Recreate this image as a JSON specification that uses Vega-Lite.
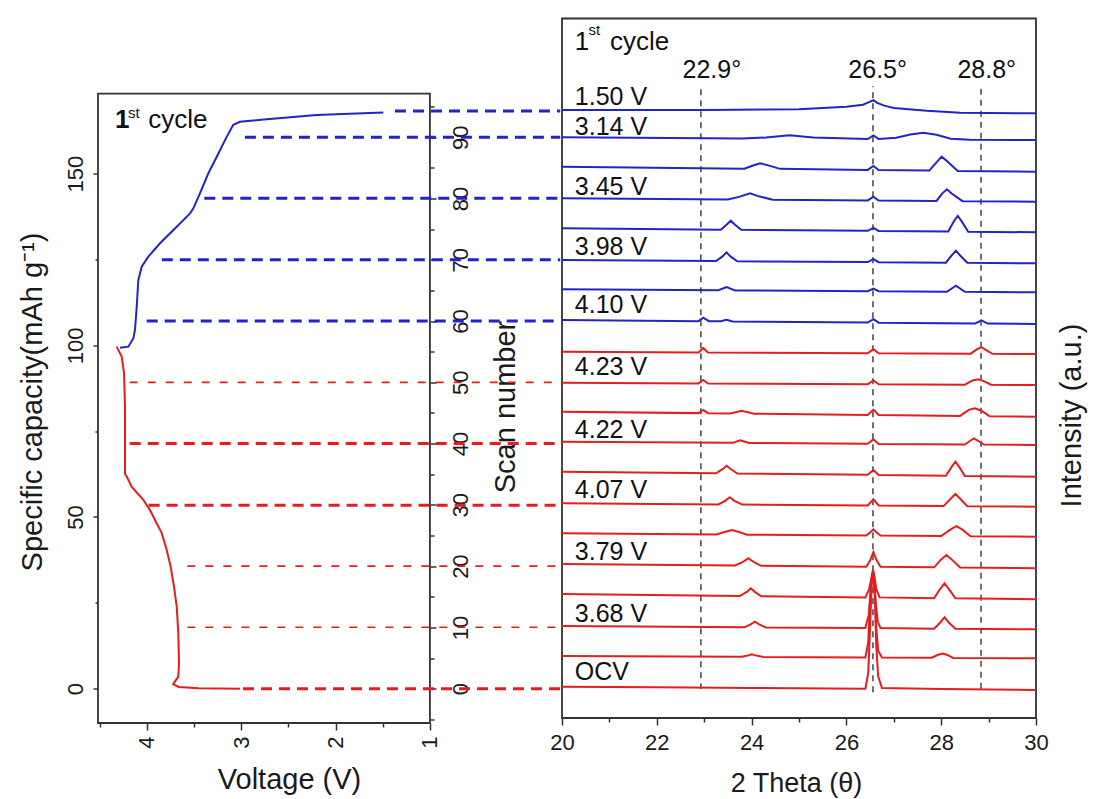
{
 "$schema": "https://vega.github.io/schema/vega-lite/v6.json",
 "width": 938,
 "height": 704.5,
 "autosize": {"type": "none"},
 "padding": {"left": 98, "top": 18.5, "right": 61, "bottom": 76},
 "config": {
  "font": "Liberation Sans",
  "view": {"stroke": null},
  "axis": {"grid": false, "domain": false, "labelFlush": false, "labelOverlap": false, "tickColor": "#333", "tickWidth": 1.5, "labelColor": "#1a1a1a", "titleColor": "#1a1a1a", "labelFontSize": 22, "titleFontSize": 29, "titleFontWeight": "normal", "labelFont": "Liberation Sans", "titleFont": "Liberation Sans"}
 },
 "datasets": {
  "charge": [
   {"n":0,"v":4.283,"cap":99.3},{"n":1,"v":4.195,"cap":99.6},{"n":2,"v":4.142,"cap":102.0},{"n":3,"v":4.124,"cap":104.5},{"n":4,"v":4.106,"cap":111.2},{"n":5,"v":4.089,"cap":119.0},{"n":6,"v":4.053,"cap":122.9},{"n":7,"v":3.983,"cap":125.8},{"n":8,"v":3.859,"cap":129.7},{"n":9,"v":3.682,"cap":134.5},{"n":10,"v":3.541,"cap":138.4},{"n":11,"v":3.506,"cap":139.9},{"n":12,"v":3.435,"cap":144.3},{"n":13,"v":3.347,"cap":150.1},{"n":14,"v":3.258,"cap":154.9},{"n":15,"v":3.153,"cap":160.7},{"n":16,"v":3.083,"cap":164.2},{"n":17,"v":3.012,"cap":165.1},{"n":18,"v":2.729,"cap":165.8},{"n":19,"v":2.2,"cap":167.1},{"n":20,"v":1.494,"cap":167.8}
  ],
  "disch": [
   {"n":0,"v":3.01,"cap":0.0},{"n":1,"v":3.45,"cap":0.1},{"n":2,"v":3.66,"cap":0.5},{"n":3,"v":3.72,"cap":1.3},{"n":4,"v":3.665,"cap":3.5},{"n":5,"v":3.658,"cap":7.4},{"n":6,"v":3.665,"cap":16.1},{"n":7,"v":3.682,"cap":23.9},{"n":8,"v":3.711,"cap":29.7},{"n":9,"v":3.746,"cap":35.5},{"n":10,"v":3.788,"cap":40.4},{"n":11,"v":3.841,"cap":45.3},{"n":12,"v":3.912,"cap":49.1},{"n":13,"v":3.965,"cap":52.0},{"n":14,"v":4.036,"cap":55.0},{"n":15,"v":4.16,"cap":58.8},{"n":16,"v":4.21,"cap":61.7},{"n":17,"v":4.23,"cap":62.5},{"n":18,"v":4.23,"cap":82.1},{"n":19,"v":4.24,"cap":91.8},{"n":20,"v":4.265,"cap":96.7},{"n":21,"v":4.318,"cap":99.6}
  ],
  "dash": [
   {"v":2.98,"v2":-0.38,"cap":0,"g":"rt"},
   {"v":3.57,"v2":-0.38,"cap":17.9,"g":"rn"},
   {"v":3.57,"v2":-0.38,"cap":35.7,"g":"rn"},
   {"v":3.98,"v2":-0.38,"cap":53.4,"g":"rt"},
   {"v":4.18,"v2":-0.38,"cap":71.4,"g":"rt"},
   {"v":4.18,"v2":-0.38,"cap":89.2,"g":"rn"},
   {"v":4.0,"v2":-0.38,"cap":107.1,"g":"b"},
   {"v":3.84,"v2":-0.38,"cap":124.9,"g":"b"},
   {"v":3.39,"v2":-0.38,"cap":142.8,"g":"b"},
   {"v":2.96,"v2":-0.38,"cap":160.6,"g":"b"},
   {"v":1.37,"v2":-0.38,"cap":168.2,"g":"b"}
  ],
  "xrd": [
   {"k":0,"t":20,"s":0.33},{"k":0,"t":22,"s":0.22},{"k":0,"t":24,"s":0.12},{"k":0,"t":26.4,"s":0.0},{"k":0,"t":26.46,"s":2.5},{"k":0,"t":26.5,"s":10},{"k":0,"t":26.54,"s":18.5},{"k":0,"t":26.57,"s":19.1},{"k":0,"t":26.6,"s":15},{"k":0,"t":26.63,"s":7},{"k":0,"t":26.67,"s":2},{"k":0,"t":26.75,"s":0.1},{"k":0,"t":28,"s":-0.05},{"k":0,"t":30,"s":-0.2},
   {"k":1,"t":20,"s":5.34},{"k":1,"t":23.8,"s":5.2},{"k":1,"t":23.92,"s":5.4},{"k":1,"t":24.0,"s":5.6},{"k":1,"t":24.1,"s":5.4},{"k":1,"t":24.25,"s":5.18},{"k":1,"t":26.4,"s":5.1},{"k":1,"t":26.46,"s":7.5},{"k":1,"t":26.5,"s":14},{"k":1,"t":26.54,"s":18.6},{"k":1,"t":26.57,"s":19.0},{"k":1,"t":26.6,"s":16},{"k":1,"t":26.63,"s":10},{"k":1,"t":26.67,"s":6.2},{"k":1,"t":26.75,"s":5.1},{"k":1,"t":27.8,"s":5.05},{"k":1,"t":27.92,"s":5.5},{"k":1,"t":28.03,"s":5.75},{"k":1,"t":28.13,"s":5.5},{"k":1,"t":28.25,"s":5.02},{"k":1,"t":30,"s":4.96},
   {"k":2,"t":20,"s":10.23},{"k":2,"t":23.85,"s":10.02},{"k":2,"t":23.98,"s":10.5},{"k":2,"t":24.07,"s":10.93},{"k":2,"t":24.16,"s":10.5},{"k":2,"t":24.3,"s":10.0},{"k":2,"t":26.4,"s":9.9},{"k":2,"t":26.47,"s":12},{"k":2,"t":26.51,"s":16},{"k":2,"t":26.55,"s":18.9},{"k":2,"t":26.58,"s":18.5},{"k":2,"t":26.62,"s":14},{"k":2,"t":26.66,"s":11},{"k":2,"t":26.72,"s":9.9},{"k":2,"t":27.85,"s":9.8},{"k":2,"t":27.98,"s":10.8},{"k":2,"t":28.07,"s":11.65},{"k":2,"t":28.16,"s":10.8},{"k":2,"t":28.3,"s":9.78},{"k":2,"t":30,"s":9.69},
   {"k":3,"t":20,"s":15.45},{"k":3,"t":23.75,"s":15.12},{"k":3,"t":23.9,"s":15.8},{"k":3,"t":23.98,"s":16.38},{"k":3,"t":24.07,"s":15.8},{"k":3,"t":24.2,"s":15.08},{"k":3,"t":26.4,"s":14.9},{"k":3,"t":26.48,"s":16.2},{"k":3,"t":26.53,"s":18.2},{"k":3,"t":26.56,"s":19.1},{"k":3,"t":26.59,"s":18.4},{"k":3,"t":26.63,"s":16.3},{"k":3,"t":26.7,"s":14.9},{"k":3,"t":27.85,"s":14.77},{"k":3,"t":27.98,"s":16.3},{"k":3,"t":28.07,"s":17.2},{"k":3,"t":28.16,"s":16.3},{"k":3,"t":28.3,"s":14.75},{"k":3,"t":30,"s":14.59},
   {"k":4,"t":20,"s":20.35},{"k":4,"t":23.65,"s":20.1},{"k":4,"t":23.82,"s":20.7},{"k":4,"t":23.93,"s":21.28},{"k":4,"t":24.04,"s":20.7},{"k":4,"t":24.2,"s":20.05},{"k":4,"t":26.42,"s":19.9},{"k":4,"t":26.5,"s":20.9},{"k":4,"t":26.57,"s":22.3},{"k":4,"t":26.64,"s":20.9},{"k":4,"t":26.72,"s":19.9},{"k":4,"t":27.85,"s":19.8},{"k":4,"t":28.0,"s":21.1},{"k":4,"t":28.11,"s":21.82},{"k":4,"t":28.22,"s":21.1},{"k":4,"t":28.4,"s":19.77},{"k":4,"t":30,"s":19.65},
   {"k":5,"t":20,"s":25.36},{"k":5,"t":23.25,"s":25.18},{"k":5,"t":23.45,"s":25.6},{"k":5,"t":23.58,"s":25.9},{"k":5,"t":23.72,"s":25.6},{"k":5,"t":23.9,"s":25.14},{"k":5,"t":26.42,"s":25.0},{"k":5,"t":26.5,"s":25.5},{"k":5,"t":26.57,"s":26.0},{"k":5,"t":26.64,"s":25.5},{"k":5,"t":26.72,"s":25.0},{"k":5,"t":28.0,"s":24.92},{"k":5,"t":28.2,"s":26.0},{"k":5,"t":28.32,"s":26.54},{"k":5,"t":28.44,"s":26.0},{"k":5,"t":28.62,"s":24.88},{"k":5,"t":30,"s":24.8},
   {"k":6,"t":20,"s":30.25},{"k":6,"t":23.3,"s":30.07},{"k":6,"t":23.45,"s":30.7},{"k":6,"t":23.54,"s":31.23},{"k":6,"t":23.63,"s":30.7},{"k":6,"t":23.8,"s":30.04},{"k":6,"t":26.45,"s":29.9},{"k":6,"t":26.57,"s":30.9},{"k":6,"t":26.68,"s":29.9},{"k":6,"t":28.05,"s":29.8},{"k":6,"t":28.2,"s":31.0},{"k":6,"t":28.3,"s":31.77},{"k":6,"t":28.4,"s":31.0},{"k":6,"t":28.55,"s":29.78},{"k":6,"t":30,"s":29.7},
   {"k":7,"t":20,"s":35.41},{"k":7,"t":23.25,"s":35.15},{"k":7,"t":23.4,"s":35.9},{"k":7,"t":23.47,"s":36.39},{"k":7,"t":23.55,"s":35.9},{"k":7,"t":23.7,"s":35.1},{"k":7,"t":26.45,"s":34.9},{"k":7,"t":26.57,"s":35.69},{"k":7,"t":26.68,"s":34.88},{"k":7,"t":28.1,"s":34.75},{"k":7,"t":28.22,"s":36.2},{"k":7,"t":28.3,"s":37.04},{"k":7,"t":28.38,"s":36.2},{"k":7,"t":28.5,"s":34.72},{"k":7,"t":30,"s":34.6},
   {"k":8,"t":20,"s":40.31},{"k":8,"t":23.6,"s":40.12},{"k":8,"t":23.76,"s":40.55},{"k":8,"t":23.95,"s":40.1},{"k":8,"t":26.45,"s":39.96},{"k":8,"t":26.57,"s":40.69},{"k":8,"t":26.68,"s":39.95},{"k":8,"t":28.5,"s":39.85},{"k":8,"t":28.62,"s":40.5},{"k":8,"t":28.69,"s":40.85},{"k":8,"t":28.77,"s":40.5},{"k":8,"t":28.9,"s":39.83},{"k":8,"t":30,"s":39.77},
   {"k":9,"t":20,"s":45.2},{"k":9,"t":22.88,"s":44.97},{"k":9,"t":22.98,"s":45.5},{"k":9,"t":23.08,"s":44.96},{"k":9,"t":23.55,"s":44.92},{"k":9,"t":23.79,"s":45.35},{"k":9,"t":24.05,"s":44.88},{"k":9,"t":26.45,"s":44.68},{"k":9,"t":26.57,"s":45.55},{"k":9,"t":26.68,"s":44.66},{"k":9,"t":28.4,"s":44.52},{"k":9,"t":28.58,"s":45.5},{"k":9,"t":28.71,"s":45.76},{"k":9,"t":28.84,"s":45.4},{"k":9,"t":29.02,"s":44.47},{"k":9,"t":30,"s":44.39},
   {"k":10,"t":20,"s":49.93},{"k":10,"t":22.88,"s":49.82},{"k":10,"t":22.98,"s":50.37},{"k":10,"t":23.08,"s":49.81},{"k":10,"t":26.45,"s":49.7},{"k":10,"t":26.57,"s":50.3},{"k":10,"t":26.68,"s":49.69},{"k":10,"t":28.5,"s":49.61},{"k":10,"t":28.66,"s":50.3},{"k":10,"t":28.78,"s":50.49},{"k":10,"t":28.9,"s":50.2},{"k":10,"t":29.05,"s":49.6},{"k":10,"t":30,"s":49.56},
   {"k":11,"t":20,"s":54.99},{"k":11,"t":22.88,"s":54.88},{"k":11,"t":22.98,"s":55.6},{"k":11,"t":23.08,"s":54.87},{"k":11,"t":26.45,"s":54.76},{"k":11,"t":26.57,"s":55.4},{"k":11,"t":26.68,"s":54.75},{"k":11,"t":28.62,"s":54.67},{"k":11,"t":28.76,"s":55.4},{"k":11,"t":28.85,"s":55.75},{"k":11,"t":28.94,"s":55.3},{"k":11,"t":29.08,"s":54.66},{"k":11,"t":30,"s":54.62},
   {"k":12,"t":20,"s":60.17},{"k":12,"t":22.88,"s":59.98},{"k":12,"t":22.98,"s":60.55},{"k":12,"t":23.1,"s":59.97},{"k":12,"t":23.35,"s":59.95},{"k":12,"t":23.47,"s":60.2},{"k":12,"t":23.6,"s":59.93},{"k":12,"t":26.45,"s":59.75},{"k":12,"t":26.57,"s":60.3},{"k":12,"t":26.68,"s":59.73},{"k":12,"t":28.72,"s":59.6},{"k":12,"t":28.85,"s":60.1},{"k":12,"t":28.98,"s":59.58},{"k":12,"t":30,"s":59.51},
   {"k":13,"t":20,"s":65.18},{"k":13,"t":23.3,"s":65.02},{"k":13,"t":23.47,"s":65.55},{"k":13,"t":23.65,"s":65.0},{"k":13,"t":26.45,"s":64.87},{"k":13,"t":26.57,"s":65.3},{"k":13,"t":26.68,"s":64.86},{"k":13,"t":28.12,"s":64.78},{"k":13,"t":28.31,"s":65.75},{"k":13,"t":28.5,"s":64.76},{"k":13,"t":30,"s":64.69},
   {"k":14,"t":20,"s":69.96},{"k":14,"t":23.25,"s":69.78},{"k":14,"t":23.38,"s":70.5},{"k":14,"t":23.47,"s":71.21},{"k":14,"t":23.56,"s":70.5},{"k":14,"t":23.7,"s":69.76},{"k":14,"t":26.45,"s":69.62},{"k":14,"t":26.57,"s":70.1},{"k":14,"t":26.68,"s":69.6},{"k":14,"t":28.1,"s":69.52},{"k":14,"t":28.22,"s":70.7},{"k":14,"t":28.31,"s":71.48},{"k":14,"t":28.4,"s":70.7},{"k":14,"t":28.55,"s":69.5},{"k":14,"t":30,"s":69.42},
   {"k":15,"t":20,"s":75.13},{"k":15,"t":23.35,"s":74.91},{"k":15,"t":23.47,"s":75.7},{"k":15,"t":23.56,"s":76.37},{"k":15,"t":23.65,"s":75.7},{"k":15,"t":23.78,"s":74.89},{"k":15,"t":26.45,"s":74.72},{"k":15,"t":26.57,"s":75.2},{"k":15,"t":26.68,"s":74.7},{"k":15,"t":28.15,"s":74.6},{"k":15,"t":28.27,"s":76.3},{"k":15,"t":28.35,"s":77.14},{"k":15,"t":28.43,"s":76.3},{"k":15,"t":28.57,"s":74.58},{"k":15,"t":30,"s":74.48},
   {"k":16,"t":20,"s":80.03},{"k":16,"t":23.5,"s":79.83},{"k":16,"t":23.75,"s":80.3},{"k":16,"t":23.97,"s":80.84},{"k":16,"t":24.15,"s":80.35},{"k":16,"t":24.45,"s":79.8},{"k":16,"t":26.45,"s":79.68},{"k":16,"t":26.57,"s":80.3},{"k":16,"t":26.68,"s":79.67},{"k":16,"t":27.9,"s":79.59},{"k":16,"t":28.02,"s":80.8},{"k":16,"t":28.12,"s":81.49},{"k":16,"t":28.22,"s":80.8},{"k":16,"t":28.45,"s":79.56},{"k":16,"t":30,"s":79.47},
   {"k":17,"t":20,"s":85.18},{"k":17,"t":23.85,"s":84.87},{"k":17,"t":24.0,"s":85.3},{"k":17,"t":24.18,"s":85.73},{"k":17,"t":24.35,"s":85.4},{"k":17,"t":24.6,"s":84.83},{"k":17,"t":26.45,"s":84.66},{"k":17,"t":26.57,"s":85.3},{"k":17,"t":26.68,"s":84.65},{"k":17,"t":27.75,"s":84.55},{"k":17,"t":27.9,"s":85.9},{"k":17,"t":28.01,"s":86.82},{"k":17,"t":28.12,"s":86.1},{"k":17,"t":28.35,"s":84.5},{"k":17,"t":30,"s":84.37},
   {"k":18,"t":20,"s":89.98},{"k":18,"t":23.8,"s":89.8},{"k":18,"t":24.3,"s":89.95},{"k":18,"t":24.8,"s":90.3},{"k":18,"t":25.3,"s":89.95},{"k":18,"t":26.45,"s":89.7},{"k":18,"t":26.57,"s":90.3},{"k":18,"t":26.68,"s":89.69},{"k":18,"t":27.05,"s":89.9},{"k":18,"t":27.35,"s":90.45},{"k":18,"t":27.62,"s":90.73},{"k":18,"t":27.9,"s":90.4},{"k":18,"t":28.2,"s":89.75},{"k":18,"t":28.6,"s":89.6},{"k":18,"t":30,"s":89.54},
   {"k":19,"t":20,"s":94.45},{"k":19,"t":23,"s":94.45},{"k":19,"t":25,"s":94.55},{"k":19,"t":26.0,"s":94.95},{"k":19,"t":26.35,"s":95.3},{"k":19,"t":26.5,"s":95.8},{"k":19,"t":26.57,"s":96.05},{"k":19,"t":26.65,"s":95.6},{"k":19,"t":26.8,"s":95.15},{"k":19,"t":27.0,"s":94.75},{"k":19,"t":27.7,"s":94.3},{"k":19,"t":28.4,"s":94.0},{"k":19,"t":30,"s":93.9}
  ],
  "vlabels": [
   {"t":20.27,"s":95.25,"txt":"1.50 V"},{"t":20.27,"s":90.35,"txt":"3.14 V"},{"t":20.27,"s":80.56,"txt":"3.45 V"},{"t":20.27,"s":70.81,"txt":"3.98 V"},{"t":20.27,"s":61.26,"txt":"4.10 V"},{"t":20.27,"s":51.19,"txt":"4.23 V"},{"t":20.27,"s":40.86,"txt":"4.22 V"},{"t":20.27,"s":31.07,"txt":"4.07 V"},{"t":20.27,"s":21.0,"txt":"3.79 V"},{"t":20.27,"s":10.93,"txt":"3.68 V"},{"t":20.27,"s":1.42,"txt":"OCV"}
  ]
 },
 "resolve": {"scale": {"x": "independent", "y": "independent"}},
 "layer": [
  {
   "encoding": {
    "x": {"field": "v", "type": "quantitative", "scale": {"domain": [-5.42, 4.516], "reverse": true, "nice": false, "zero": false},
          "axis": {"orient": "bottom", "values": [4, 3, 2, 1], "tickSize": 7, "labelAngle": -90, "labelAlign": "right", "labelBaseline": "middle", "labelPadding": 6, "title": "Voltage (V)", "titleX": 191, "titleY": 56, "titleBaseline": "middle", "titleAlign": "center"}},
    "y": {"field": "cap", "type": "quantitative", "scale": {"domain": [-10, 195.17], "nice": false, "zero": false},
          "axis": {"orient": "left", "values": [0, 50, 100, 150], "tickSize": 5, "labelAngle": -90, "labelAlign": "center", "labelBaseline": "bottom", "labelPadding": 6, "title": "Specific capacity(mAh g⁻¹)", "titleAngle": -90, "titleX": -66, "titleY": 383, "titleBaseline": "middle", "titleAlign": "center"}}
   },
   "layer": [
    {"data": {"values": [{"v": 4.516, "v2": 1, "cap": -10, "cap2": 173.3}]}, "mark": {"type": "rect", "filled": false, "stroke": "#333", "strokeWidth": 1.8}, "encoding": {"x2": {"field": "v2"}, "y2": {"field": "cap2"}}},
    {"data": {"name": "dash"}, "transform": [{"filter": "datum.g == 'b'"}], "mark": {"type": "rule", "stroke": "#2323c8", "strokeWidth": 3, "strokeDash": [11, 7]}, "encoding": {"x2": {"field": "v2"}}},
    {"data": {"name": "dash"}, "transform": [{"filter": "datum.g == 'rt'"}], "mark": {"type": "rule", "stroke": "#e41e1e", "strokeWidth": 3, "strokeDash": [11, 7]}, "encoding": {"x2": {"field": "v2"}}},
    {"data": {"name": "dash"}, "transform": [{"filter": "datum.g == 'rn'"}], "mark": {"type": "rule", "stroke": "#e41e1e", "strokeWidth": 1.6, "strokeDash": [8, 10]}, "encoding": {"x2": {"field": "v2"}}},
    {"data": {"name": "disch"}, "mark": {"type": "line", "stroke": "#e41e1e", "strokeWidth": 2}, "encoding": {"order": {"field": "n", "type": "quantitative"}}},
    {"data": {"name": "charge"}, "mark": {"type": "line", "stroke": "#2323c8", "strokeWidth": 2}, "encoding": {"order": {"field": "n", "type": "quantitative"}}},
    {"data": {"values": [{"v": 4.336, "cap": 163.3, "txt": "1"}]}, "mark": {"type": "text", "align": "left", "baseline": "alphabetic", "fontSize": 26, "fontWeight": "bold", "color": "#111"}, "encoding": {"text": {"field": "txt"}}},
    {"data": {"values": [{"v": 4.198, "cap": 166.1, "txt": "st"}]}, "mark": {"type": "text", "align": "left", "baseline": "alphabetic", "fontSize": 15, "color": "#111"}, "encoding": {"text": {"field": "txt"}}},
    {"data": {"values": [{"v": 3.983, "cap": 163.3, "txt": "cycle"}]}, "mark": {"type": "text", "align": "left", "baseline": "alphabetic", "fontSize": 26, "color": "#111"}, "encoding": {"text": {"field": "txt"}}}
   ]
  },
  {
   "encoding": {
    "x": {"field": "t", "type": "quantitative", "scale": {"domain": [10.21, 30], "nice": false, "zero": false},
          "axis": {"orient": "bottom", "offset": -5, "values": [20, 22, 24, 26, 28, 30], "tickSize": 7, "labelAngle": 0, "labelAlign": "center", "labelBaseline": "top", "labelPadding": 7, "title": "2 Theta (θ)", "titleFontSize": 27, "titleX": 698, "titleY": 65, "titleBaseline": "middle", "titleAlign": "center"}},
    "y": {"field": "s", "type": "quantitative", "scale": {"domain": [-5.6, 109.37], "nice": false, "zero": false},
          "axis": {"orient": "right", "offset": -606, "values": [0, 10, 20, 30, 40, 50, 60, 70, 80, 90], "tickSize": 6, "labelAngle": -90, "labelAlign": "center", "labelBaseline": "top", "labelPadding": 14, "title": "Scan number", "titleAngle": -90, "titleX": 75, "titleY": 388, "titleBaseline": "middle", "titleAlign": "center"}}
   },
   "layer": [
    {"data": {"values": [{"t": 20, "t2": 30, "s": -4.78, "s2": 109.37}]}, "mark": {"type": "rect", "filled": false, "stroke": "#333", "strokeWidth": 1.8}, "encoding": {"x2": {"field": "t2"}, "y2": {"field": "s2"}}},
    {"data": {"values": [{"t": 22.93, "s": -0.1, "s2": 98.3}, {"t": 26.56, "s": -0.6, "s2": 98.3}, {"t": 28.84, "s": 0, "s2": 98.3}]}, "mark": {"type": "rule", "stroke": "#444", "strokeWidth": 1.5, "strokeDash": [6, 5]}, "encoding": {"y2": {"field": "s2"}}},
    {"data": {"name": "xrd"}, "transform": [{"filter": "datum.k < 12"}], "mark": {"type": "line", "stroke": "#e41e1e", "strokeWidth": 2}, "encoding": {"detail": {"field": "k", "type": "nominal"}}},
    {"data": {"name": "xrd"}, "transform": [{"filter": "datum.k >= 12"}], "mark": {"type": "line", "stroke": "#2323c8", "strokeWidth": 2}, "encoding": {"detail": {"field": "k", "type": "nominal"}}},
    {"data": {"name": "vlabels"}, "mark": {"type": "text", "align": "left", "baseline": "alphabetic", "fontSize": 25, "color": "#111"}, "encoding": {"text": {"field": "txt"}}},
    {"data": {"values": [{"t": 23.16, "s": 99.6, "txt": "22.9°"}, {"t": 26.66, "s": 99.6, "txt": "26.5°"}, {"t": 28.96, "s": 99.6, "txt": "28.8°"}]}, "mark": {"type": "text", "align": "center", "baseline": "alphabetic", "fontSize": 25, "color": "#111"}, "encoding": {"text": {"field": "txt"}}},
    {"data": {"values": [{"t": 20.27, "s": 104.2, "txt": "1"}, {"t": 21.01, "s": 104.2, "txt": "cycle"}]}, "mark": {"type": "text", "align": "left", "baseline": "alphabetic", "fontSize": 26, "color": "#111"}, "encoding": {"text": {"field": "txt"}}},
    {"data": {"values": [{"t": 20.56, "s": 106.67, "txt": "st"}]}, "mark": {"type": "text", "align": "left", "baseline": "alphabetic", "fontSize": 15, "color": "#111"}, "encoding": {"text": {"field": "txt"}}}
   ]
  },
  {
   "data": {"values": [{"a": 2, "b": 50}]},
   "mark": {"type": "point", "opacity": 0},
   "encoding": {
    "x": {"field": "a", "type": "quantitative", "scale": {"domain": [-5.42, 4.516], "reverse": true, "nice": false, "zero": false}, "axis": {"orient": "bottom", "values": [4.5, 3.5, 2.5, 1.5], "labels": false, "tickSize": 4, "title": null}},
    "y": {"field": "b", "type": "quantitative", "scale": {"domain": [-10, 195.17], "nice": false, "zero": false}, "axis": {"orient": "left", "values": [25, 75, 125], "labels": false, "tickSize": 3, "title": null}}
   }
  },
  {
   "data": {"values": [{"a": 25, "b": 50}]},
   "mark": {"type": "point", "opacity": 0},
   "encoding": {
    "x": {"field": "a", "type": "quantitative", "scale": {"domain": [10.21, 30], "nice": false, "zero": false}, "axis": {"orient": "bottom", "offset": -5, "values": [21, 23, 25, 27, 29], "labels": false, "tickSize": 4, "title": null}},
    "y": {"field": "b", "type": "quantitative", "scale": {"domain": [-5.6, 109.37], "nice": false, "zero": false}, "axis": {"orient": "right", "offset": -606, "values": [-5, 5, 15, 25, 35, 45, 55, 65, 75, 85, 95], "labels": false, "tickSize": 4, "title": null}}
   }
  },
  {
   "data": {"values": [{"a": 0, "b": 0}]},
   "mark": {"type": "point", "opacity": 0},
   "encoding": {
    "x": {"field": "a", "type": "quantitative", "axis": null},
    "y": {"field": "b", "type": "quantitative", "axis": {"orient": "right", "ticks": false, "labels": false, "title": "Intensity (a.u.)", "titleAngle": -90, "titleX": 35, "titleY": 396.5, "titleBaseline": "middle", "titleAlign": "center"}}
   }
  }
 ]
}
